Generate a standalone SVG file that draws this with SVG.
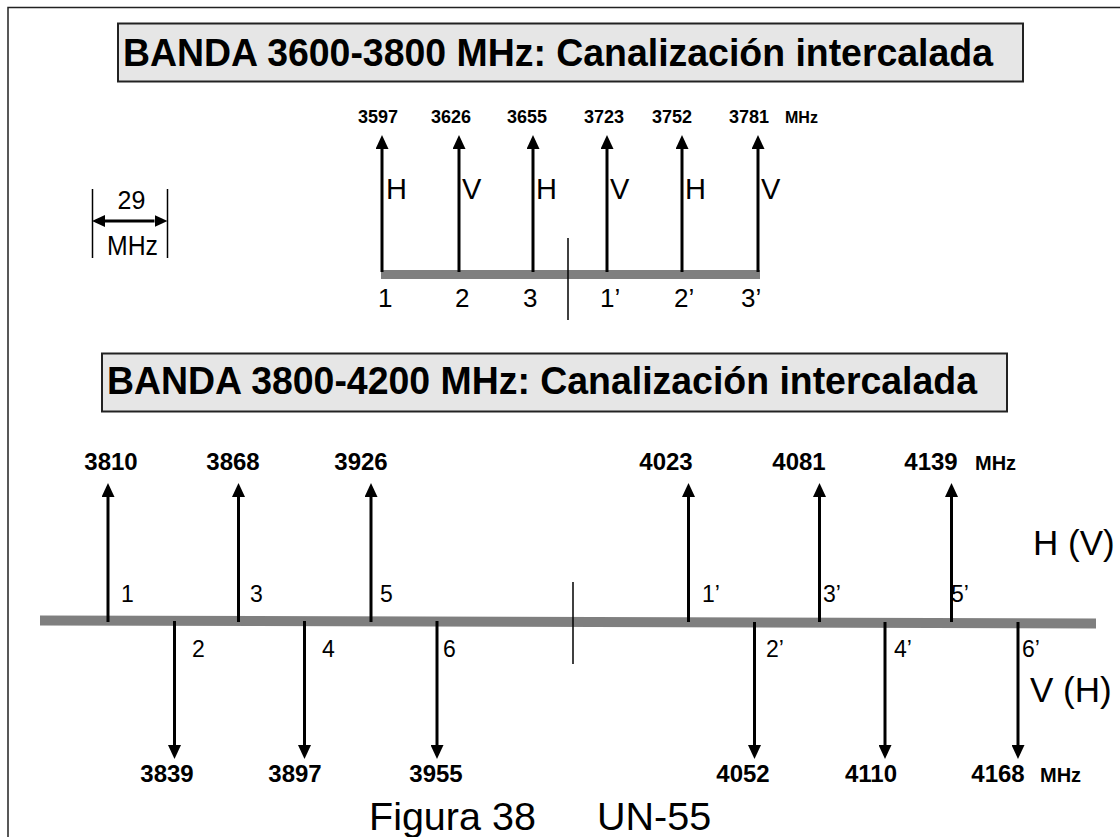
<svg xmlns="http://www.w3.org/2000/svg" width="1120" height="837" viewBox="0 0 1120 837">
<defs>
<marker id="ah" viewBox="0 0 14 13" refX="0" refY="6.5" markerWidth="14" markerHeight="13" markerUnits="userSpaceOnUse" orient="auto"><path d="M0,0 L14,6.5 L0,13 z" fill="#000"/></marker>
<marker id="ahs" viewBox="0 0 13 12" refX="0" refY="6" markerWidth="13" markerHeight="12" markerUnits="userSpaceOnUse" orient="auto-start-reverse"><path d="M0,0 L13,6 L0,12 z" fill="#000"/></marker>
</defs>
<style>
.title-box{fill:#e6e6e6;stroke:#222;stroke-width:2}
.title{font-family:"Liberation Sans",Arial,sans-serif;font-weight:bold;font-size:39px;fill:#000}
.freq{font-family:"Liberation Sans",Arial,sans-serif;font-weight:bold;fill:#000}
.f1{font-size:18px}
.f1m{font-size:16px}
.f2{font-size:24px}
.f2m{font-size:20px}
.lbl{font-family:"Liberation Sans",Arial,sans-serif;fill:#000}
.arrow{stroke:#000;stroke-width:3;fill:none}
.thin{stroke:#000;stroke-width:1.5;fill:none}
.bar{stroke:#7f7f7f;fill:none}
</style>
<rect width="1120" height="837" fill="#fff"/>
<path d="M8,837 V7.5 H1120" fill="none" stroke="#222" stroke-width="1.5"/>

<g id="title1">
<rect class="title-box" x="118" y="23.5" width="905" height="58"/>
<text class="title" x="123" y="66" textLength="870" lengthAdjust="spacingAndGlyphs">BANDA 3600-3800 MHz: Canalización intercalada</text>
</g>

<g id="scale29">
<line class="thin" x1="92.5" y1="189" x2="92.5" y2="258"/>
<line class="thin" x1="167.5" y1="189" x2="167.5" y2="258"/>
<text class="lbl" x="131.5" y="208.5" font-size="25" text-anchor="middle">29</text>
<text class="lbl" x="107" y="255" font-size="27" textLength="51" lengthAdjust="spacingAndGlyphs">MHz</text>
</g>

<g id="band1-axis">
<line class="bar" x1="381" y1="274.5" x2="760" y2="274.5" stroke-width="9"/>
<line class="thin" x1="568" y1="238" x2="568" y2="320"/>
</g>

<g id="band1-freqs">
<text class="freq f1" x="378" y="123" text-anchor="middle">3597</text>
<text class="freq f1" x="451" y="123" text-anchor="middle">3626</text>
<text class="freq f1" x="527" y="123" text-anchor="middle">3655</text>
<text class="freq f1" x="604" y="123" text-anchor="middle">3723</text>
<text class="freq f1" x="672" y="123" text-anchor="middle">3752</text>
<text class="freq f1" x="749" y="123" text-anchor="middle">3781</text>
<text class="freq f1m" x="785" y="123">MHz</text>
</g>

<g id="band1-pol">
<text class="lbl" x="386" y="199" font-size="29">H</text>
<text class="lbl" x="462" y="199" font-size="29">V</text>
<text class="lbl" x="536" y="199" font-size="29">H</text>
<text class="lbl" x="610" y="199" font-size="29">V</text>
<text class="lbl" x="685" y="199" font-size="29">H</text>
<text class="lbl" x="761" y="199" font-size="29">V</text>
</g>

<g id="band1-ch">
<text class="lbl" x="378" y="306.5" font-size="26">1</text>
<text class="lbl" x="455" y="306.5" font-size="26">2</text>
<text class="lbl" x="523" y="306.5" font-size="26">3</text>
<text class="lbl" x="600" y="306.5" font-size="26">1’</text>
<text class="lbl" x="674" y="306.5" font-size="26">2’</text>
<text class="lbl" x="741" y="306.5" font-size="26">3’</text>
</g>

<g id="title2">
<rect class="title-box" x="102" y="353.5" width="905" height="58"/>
<text class="title" x="107" y="394" textLength="870" lengthAdjust="spacingAndGlyphs">BANDA 3800-4200 MHz: Canalización intercalada</text>
</g>

<g id="band2-axis">
<line class="bar" x1="40" y1="620.5" x2="1096" y2="623.5" stroke-width="10"/>
<line class="thin" x1="573" y1="582" x2="573" y2="664"/>
</g>

<g id="band2-freqs-up">
<text class="freq f2" x="111" y="470" text-anchor="middle">3810</text>
<text class="freq f2" x="233" y="470" text-anchor="middle">3868</text>
<text class="freq f2" x="361" y="470" text-anchor="middle">3926</text>
<text class="freq f2" x="666" y="470" text-anchor="middle">4023</text>
<text class="freq f2" x="799" y="470" text-anchor="middle">4081</text>
<text class="freq f2" x="931" y="470" text-anchor="middle">4139</text>
<text class="freq f2m" x="975" y="470">MHz</text>
</g>

<g id="band2-freqs-down">
<text class="freq f2" x="167" y="782" text-anchor="middle">3839</text>
<text class="freq f2" x="295" y="782" text-anchor="middle">3897</text>
<text class="freq f2" x="436" y="782" text-anchor="middle">3955</text>
<text class="freq f2" x="743" y="782" text-anchor="middle">4052</text>
<text class="freq f2" x="871" y="782" text-anchor="middle">4110</text>
<text class="freq f2" x="998" y="782" text-anchor="middle">4168</text>
<text class="freq f2m" x="1040" y="782">MHz</text>
</g>

<g id="band2-ch">
<text class="lbl" x="121" y="602" font-size="23">1</text>
<text class="lbl" x="250" y="602" font-size="23">3</text>
<text class="lbl" x="380" y="602" font-size="23">5</text>
<text class="lbl" x="702" y="602" font-size="23">1’</text>
<text class="lbl" x="823" y="602" font-size="23">3’</text>
<text class="lbl" x="951" y="602" font-size="23">5’</text>
<text class="lbl" x="192" y="657" font-size="23">2</text>
<text class="lbl" x="322" y="657" font-size="23">4</text>
<text class="lbl" x="443" y="657" font-size="23">6</text>
<text class="lbl" x="766" y="657" font-size="23">2’</text>
<text class="lbl" x="894" y="657" font-size="23">4’</text>
<text class="lbl" x="1022" y="657" font-size="23">6’</text>
</g>

<g id="pol-labels">
<text class="lbl" x="1033" y="555" font-size="35">H (V)</text>
<text class="lbl" x="1030" y="702" font-size="35">V (H)</text>
</g>

<g id="caption">
<text class="lbl" x="369" y="830" font-size="39.5">Figura 38</text>
<text class="lbl" x="597" y="830" font-size="39.5">UN-55</text>
</g>

<g id="connectors">
<line class="arrow" x1="105" y1="221" x2="154.5" y2="221" stroke-width="2" marker-start="url(#ahs)" marker-end="url(#ahs)"/>
<line class="arrow" x1="382" y1="272" x2="382" y2="149" marker-end="url(#ah)"/>
<line class="arrow" x1="459" y1="272" x2="459" y2="149" marker-end="url(#ah)"/>
<line class="arrow" x1="533" y1="272" x2="533" y2="149" marker-end="url(#ah)"/>
<line class="arrow" x1="607" y1="272" x2="607" y2="149" marker-end="url(#ah)"/>
<line class="arrow" x1="682" y1="272" x2="682" y2="149" marker-end="url(#ah)"/>
<line class="arrow" x1="758" y1="272" x2="758" y2="149" marker-end="url(#ah)"/>

<line class="arrow" x1="108" y1="622" x2="108" y2="497" marker-end="url(#ah)"/>
<line class="arrow" x1="238.5" y1="622" x2="238.5" y2="497" marker-end="url(#ah)"/>
<line class="arrow" x1="371" y1="622" x2="371" y2="497" marker-end="url(#ah)"/>
<line class="arrow" x1="688.5" y1="622" x2="688.5" y2="497" marker-end="url(#ah)"/>
<line class="arrow" x1="819.5" y1="622" x2="819.5" y2="497" marker-end="url(#ah)"/>
<line class="arrow" x1="951.5" y1="622" x2="951.5" y2="497" marker-end="url(#ah)"/>

<line class="arrow" x1="174.5" y1="621" x2="174.5" y2="745" marker-end="url(#ah)"/>
<line class="arrow" x1="304.5" y1="621" x2="304.5" y2="745" marker-end="url(#ah)"/>
<line class="arrow" x1="437" y1="621" x2="437" y2="745" marker-end="url(#ah)"/>
<line class="arrow" x1="754.5" y1="622" x2="754.5" y2="745" marker-end="url(#ah)"/>
<line class="arrow" x1="885" y1="622" x2="885" y2="745" marker-end="url(#ah)"/>
<line class="arrow" x1="1018" y1="622" x2="1018" y2="745" marker-end="url(#ah)"/>
</g>
</svg>
